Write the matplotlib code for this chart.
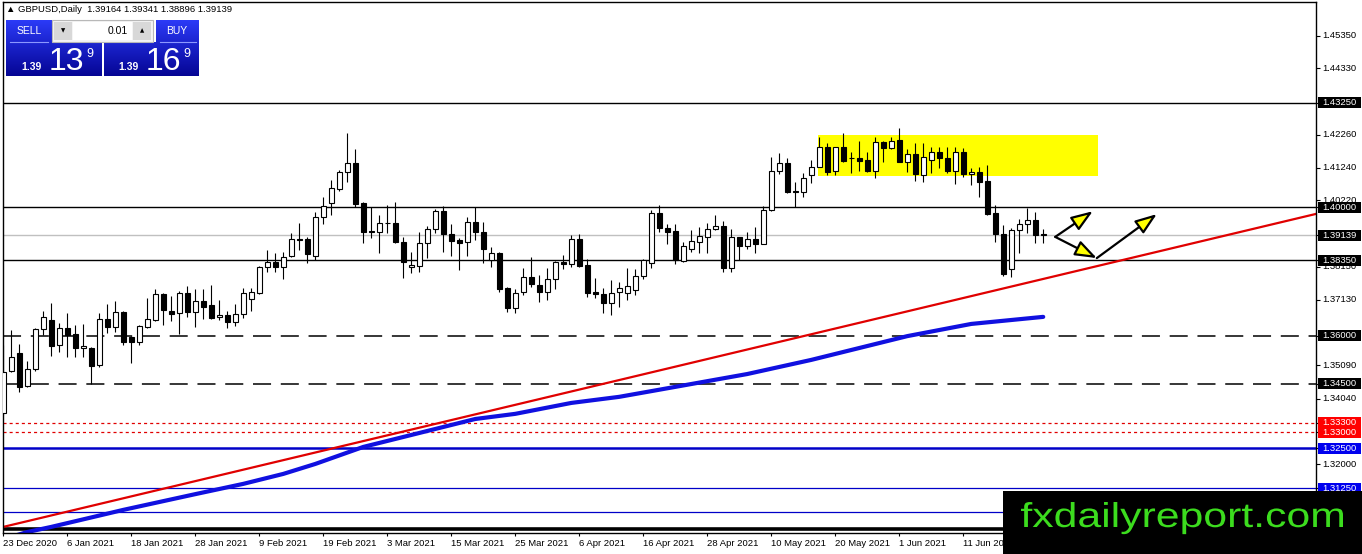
import numpy as np
import matplotlib
matplotlib.use("Agg")
import matplotlib.pyplot as plt
import matplotlib.transforms as mtransforms
from matplotlib.patches import Rectangle, PathPatch
from matplotlib.textpath import TextPath
from matplotlib.font_manager import FontProperties

plt.rcParams['font.family'] = ['Liberation Sans', 'DejaVu Sans']
plt.rcParams['lines.scale_dashes'] = False

# daily GBPUSD candles, one per trading day from 23 Dec 2020
opens = [1.3360, 1.3491, 1.3547, 1.3443, 1.3497, 1.3621, 1.3649, 1.3571, 1.3624, 1.3606,
         1.3562, 1.3562, 1.3509, 1.3652, 1.3627, 1.3674, 1.3596, 1.3581, 1.3627, 1.3649,
         1.3730, 1.3677, 1.3671, 1.3733, 1.3674, 1.3708, 1.3696, 1.3658, 1.3665, 1.3643,
         1.3668, 1.3715, 1.3733, 1.3814, 1.3830, 1.3814, 1.3848, 1.3901, 1.3901, 1.3848,
         1.3970, 1.4014, 1.4057, 1.4110, 1.4138, 1.4014, 1.3926, 1.3923, 1.3951, 1.3951,
         1.3892, 1.3814, 1.3817, 1.3889, 1.3932, 1.3988, 1.3917, 1.3898, 1.3892, 1.3954,
         1.3923, 1.3836, 1.3858, 1.3749, 1.3687, 1.3737, 1.3783, 1.3758, 1.3737, 1.3777,
         1.3830, 1.3824, 1.3901, 1.3821, 1.3737, 1.3730, 1.3702, 1.3737, 1.3733, 1.3743,
         1.3786, 1.3827, 1.3982, 1.3935, 1.3926, 1.3833, 1.3870, 1.3892, 1.3907, 1.3932,
         1.3942, 1.3811, 1.3907, 1.3879, 1.3901, 1.3886, 1.3992, 1.4113, 1.4138, 1.4051,
         1.4048, 1.4101, 1.4126, 1.4188, 1.4113, 1.4188, 1.4153, 1.4153, 1.4147, 1.4113,
         1.4203, 1.4185, 1.4210, 1.4141, 1.4166, 1.4101, 1.4147, 1.4172, 1.4153, 1.4113,
         1.4172, 1.4104, 1.4110, 1.4082, 1.3982, 1.3917, 1.3808, 1.3929, 1.3948, 1.3960,
         1.39164]
highs = [1.3571, 1.3618, 1.3575, 1.3522, 1.3624, 1.3677, 1.3702, 1.3640, 1.3671, 1.3634,
         1.3637, 1.3565, 1.3671, 1.3699, 1.3708, 1.3677, 1.3598, 1.3634, 1.3718, 1.3746,
         1.3733, 1.3724, 1.3740, 1.3755, 1.3746, 1.3746, 1.3758, 1.3711, 1.3677, 1.3699,
         1.3749, 1.3749, 1.3817, 1.3867, 1.3858, 1.3861, 1.3920, 1.3951, 1.3907, 1.3985,
         1.4032, 1.4085, 1.4116, 1.4231, 1.4181, 1.4016, 1.4001, 1.3976, 1.4007, 1.4017,
         1.3907, 1.3861, 1.3923, 1.3942, 1.3995, 1.4004, 1.3948, 1.3904, 1.3970, 1.4001,
         1.3954, 1.3876, 1.3861, 1.3752, 1.3746, 1.3811, 1.3845, 1.3789, 1.3811, 1.3833,
         1.3852, 1.3914, 1.3917, 1.3839, 1.3780, 1.3749, 1.3774, 1.3768, 1.3811, 1.3808,
         1.3839, 1.3992, 1.4007, 1.3948, 1.3948, 1.3892, 1.3929, 1.3939, 1.3951, 1.3976,
         1.3957, 1.3932, 1.3908, 1.3923, 1.3939, 1.4004, 1.4157, 1.4169, 1.4153, 1.4079,
         1.4107, 1.4147, 1.4219, 1.4200, 1.4189, 1.4231, 1.4172, 1.4206, 1.4172, 1.4219,
         1.4206, 1.4219, 1.4247, 1.4181, 1.4200, 1.4200, 1.4188, 1.4188, 1.4188, 1.4188,
         1.4185, 1.4122, 1.4126, 1.4132, 1.4007, 1.3945, 1.3935, 1.3964, 1.3998, 1.3985,
         1.39341]
lows = [1.3353, 1.3488, 1.3425, 1.3441, 1.3491, 1.3602, 1.3537, 1.3550, 1.3534, 1.3534,
        1.3534, 1.3450, 1.3503, 1.3609, 1.3612, 1.3571, 1.3515, 1.3571, 1.3624, 1.3646,
        1.3634, 1.3646, 1.3606, 1.3658, 1.3627, 1.3652, 1.3652, 1.3649, 1.3624, 1.3630,
        1.3655, 1.3677, 1.3731, 1.3799, 1.3799, 1.3777, 1.3845, 1.3867, 1.3827, 1.3836,
        1.3948, 1.3976, 1.4051, 1.4079, 1.4001, 1.3889, 1.3904, 1.3858, 1.3920, 1.3889,
        1.3780, 1.3796, 1.3799, 1.3842, 1.3920, 1.3861, 1.3848, 1.3805, 1.3848, 1.3898,
        1.3827, 1.3814, 1.3737, 1.3674, 1.3671, 1.3727, 1.3752, 1.3705, 1.3711, 1.3746,
        1.3808, 1.3814, 1.3814, 1.3721, 1.3718, 1.3671, 1.3665, 1.3690, 1.3711, 1.3727,
        1.3777, 1.3811, 1.3923, 1.3886, 1.3824, 1.3830, 1.3861, 1.3858, 1.3858, 1.3929,
        1.3799, 1.3799, 1.3836, 1.3870, 1.3858, 1.3885, 1.3988, 1.4104, 1.4045, 1.4001,
        1.4032, 1.4076, 1.4125, 1.4101, 1.4101, 1.4141, 1.4107, 1.4113, 1.4110, 1.4091,
        1.4141, 1.4181, 1.4140, 1.4110, 1.4082, 1.4079, 1.4107, 1.4122, 1.4107, 1.4073,
        1.4094, 1.4070, 1.4032, 1.3976, 1.3892, 1.3786, 1.3783, 1.3858, 1.3920, 1.3889,
        1.38896]
closes = [1.3488, 1.3534, 1.3440, 1.3497, 1.3621, 1.3658, 1.3568, 1.3624, 1.3602, 1.3562,
          1.3568, 1.3506, 1.3652, 1.3627, 1.3674, 1.3581, 1.3581, 1.3630, 1.3652, 1.3730,
          1.3680, 1.3668, 1.3733, 1.3674, 1.3708, 1.3690, 1.3655, 1.3665, 1.3643, 1.3668,
          1.3733, 1.3737, 1.3814, 1.3830, 1.3814, 1.3845, 1.3901, 1.3898, 1.3855, 1.3970,
          1.4004, 1.4060, 1.4110, 1.4138, 1.4011, 1.3923, 1.3923, 1.3951, 1.3952, 1.3892,
          1.3830, 1.3821, 1.3889, 1.3932, 1.3988, 1.3917, 1.3895, 1.3889, 1.3954, 1.3923,
          1.3870, 1.3858, 1.3746, 1.3687, 1.3733, 1.3783, 1.3761, 1.3737, 1.3777, 1.3830,
          1.3824, 1.3901, 1.3817, 1.3733, 1.3730, 1.3702, 1.3733, 1.3749, 1.3755, 1.3786,
          1.3836, 1.3982, 1.3935, 1.3923, 1.3836, 1.3879, 1.3895, 1.3911, 1.3932, 1.3942,
          1.3811, 1.3907, 1.3879, 1.3901, 1.3886, 1.3992, 1.4113, 1.4138, 1.4048, 1.4048,
          1.4091, 1.4126, 1.4188, 1.4110, 1.4188, 1.4144, 1.4154, 1.4144, 1.4113, 1.4203,
          1.4185, 1.4206, 1.4141, 1.4166, 1.4104, 1.4157, 1.4172, 1.4153, 1.4113, 1.4172,
          1.4104, 1.4110, 1.4079, 1.3979, 1.3917, 1.3793, 1.3929, 1.3948, 1.3960, 1.3914,
          1.39139]

# date labels every 8 bars
date_idx = [0, 8, 16, 24, 32, 40, 48, 56, 64, 72, 80, 88, 96, 104, 112, 120]
date_labels = ['23 Dec 2020', '6 Jan 2021', '18 Jan 2021', '28 Jan 2021', '9 Feb 2021',
               '19 Feb 2021', '3 Mar 2021', '15 Mar 2021', '25 Mar 2021', '6 Apr 2021',
               '16 Apr 2021', '28 Apr 2021', '10 May 2021', '20 May 2021', '1 Jun 2021',
               '11 Jun 2021']

# moving average (blue), read at some bars
ma_idx = [0, 3, 6, 15, 24, 30, 35, 39, 45, 50, 59, 64, 71, 77, 84, 93, 101, 113, 121, 130]
ma_val = [1.2967, 1.2989, 1.3005, 1.3058, 1.3107, 1.3139, 1.3170, 1.3201, 1.3254, 1.3285,
          1.3341, 1.3357, 1.3391, 1.3410, 1.3441, 1.3481, 1.3525, 1.3599, 1.3637, 1.3659]

# red trend line
trend_idx = [0, 164]
trend_val = [1.3005, 1.3979]

# yellow consolidation zone
zone_idx = [101.8, 136.8]
zone_val = [1.4097, 1.4225]

# forecast arrows (start bar, start price, end bar, end price)
arrows = [(131.5, 1.3908, 136.2, 1.3988),
          (131.5, 1.3908, 136.7, 1.3842),
          (136.7, 1.3842, 144.2, 1.3979)]

# horizontal levels
solid_levels = [1.4325, 1.4000, 1.3835]
dashed_levels = [1.3600, 1.3450]
dotted_levels = [1.3330, 1.3300]
blue_levels = [1.3250, 1.3125, 1.3050]
bid_price = 1.39139
base_level = 1.3000

# right scale labels
plain_ticks = [1.45350, 1.44330, 1.42260, 1.41240, 1.40220, 1.38150, 1.37130,
               1.35090, 1.34040, 1.32000]
boxed_ticks = [1.43250, 1.40000, 1.39139, 1.38350, 1.36000, 1.34500,
               1.33300, 1.33000, 1.32500, 1.31250]
boxed_colors = ['black', 'black', 'black', 'black', 'black', 'black',
                '#ff0000', '#ff0000', '#0000ee', '#0000ee']

W, H = 1362, 554
fig = plt.figure(figsize=(W / 100, H / 100), dpi=100)
left, right, top, bottom = 2.5, 1316, 1.5, 533
ax = fig.add_axes([left / W, (H - bottom) / H, (right - left) / W, (bottom - top) / H])
ax.set_xlim(-0.1, 164.1)
ax.set_ylim(1.2986, 1.4641)

# zone
ax.add_patch(Rectangle((zone_idx[0], zone_val[0]), zone_idx[1] - zone_idx[0],
                       zone_val[1] - zone_val[0], fc='#ffff00', ec='none', zorder=1))

for v in solid_levels:
    ax.axhline(v, color='black', lw=1, zorder=1.5)
ax.axhline(bid_price, color='#c0c0c0', lw=1, zorder=1.4)
for v in dashed_levels:
    ax.axhline(v, color='black', lw=1.1, dashes=(13, 7), zorder=1.5)
for v in dotted_levels:
    ax.axhline(v, color='#e00000', lw=0.9, dashes=(2.2, 2.2), zorder=1.5)
ax.axhline(blue_levels[0], color='#0000c8', lw=1.8, zorder=1.5)
for v in blue_levels[1:]:
    ax.axhline(v, color='#0000c8', lw=0.9, zorder=1.5)
ax.axhline(base_level, color='black', lw=2.6, zorder=1.5)

# trend line and moving average
slope = (trend_val[1] - trend_val[0]) / (trend_idx[1] - trend_idx[0])
ax.axline((trend_idx[0], trend_val[0]), slope=slope, color='#e00000', lw=1.6, zorder=2)
ax.plot(ma_idx, ma_val, color='#1010e0', lw=3.0, solid_capstyle='round', zorder=2.2)

# candles
x = np.arange(len(opens))
o = np.array(opens)
c = np.array(closes)
ax.vlines(x, lows, highs, color='black', lw=0.8, zorder=3)
up = c >= o
body_lo = np.minimum(o, c)
body_h = np.maximum(np.abs(c - o), 0.00004)
ax.bar(x[up], body_h[up], bottom=body_lo[up], width=0.6, color='white',
       edgecolor='black', linewidth=0.8, zorder=4)
ax.bar(x[~up], body_h[~up], bottom=body_lo[~up], width=0.6, color='black',
       edgecolor='black', linewidth=0.8, zorder=4)

# arrows
for x0, y0, x1, y1 in arrows:
    ax.annotate('', xy=(x1, y1), xytext=(x0, y0), zorder=6,
                arrowprops=dict(arrowstyle='-|>,head_length=1.1,head_width=0.4',
                                mutation_scale=12, fc='#ffff00', ec='black', lw=1.6,
                                shrinkA=0, shrinkB=0))

# axes styling
for s in ax.spines.values():
    s.set_color('black')
    s.set_linewidth(1)
ax.set_xticks(date_idx)
ax.set_xticklabels(date_labels, fontsize=6.8, ha='left')
ax.tick_params(axis='x', length=2.5, width=0.8, pad=2)
ax.yaxis.tick_right()
ax.set_yticks(plain_ticks + boxed_ticks)
ax.tick_params(axis='y', length=3, width=0.8, labelright=False, labelleft=False)

# overlay in pixel coordinates
ov = fig.add_axes([0, 0, 1, 1], zorder=10)
ov.axis('off')


def ypix(v):
    return H - ax.transData.transform((0, v))[1]


for v in plain_ticks:
    ov.text(1322, ypix(v), f'{v:.5f}', fontsize=6.8, va='center', ha='left', color='black')
for v, col in zip(boxed_ticks, boxed_colors):
    yp = ypix(v)
    ov.add_patch(Rectangle((1317.5, yp - 5.5), 43.5, 11, fc=col, ec='none', zorder=3))
    ov.text(1322, yp, f'{v:.5f}', fontsize=6.8, va='center', ha='left', color='white',
            zorder=4)

# header
ov.text(6, 10, '\u25b2 GBPUSD,Daily  1.39164 1.39341 1.38896 1.39139', fontsize=6.8,
        va='center', ha='left', color='black')

# trade panel
c_top = np.array([0.17, 0.23, 0.97])
c_bot = np.array([0.02, 0.02, 0.58])


def grad_box(x0, x1, y0, y1):
    t = (np.linspace(y0, y1, 40) - 20) / 56
    img = c_top[None, :] * (1 - t[:, None]) + c_bot[None, :] * t[:, None]
    img = np.repeat(img[:, None, :], 2, axis=1)
    ov.imshow(img, extent=(x0, x1, y1, y0), origin='upper', aspect='auto',
              interpolation='bilinear', zorder=2)


grad_box(6, 52, 20, 42)
grad_box(6, 102, 42, 76)
grad_box(156, 199, 20, 42)
grad_box(104, 199, 42, 76)
ov.plot([10, 48], [41.5, 41.5], color='#8c98ff', lw=0.8, zorder=3)
ov.plot([160, 196], [41.5, 41.5], color='#8c98ff', lw=0.8, zorder=3)
ov.add_patch(Rectangle((52, 20), 101, 22, fc='#f4f4f4', ec='#b8b8b8', lw=0.8, zorder=2))
ov.add_patch(Rectangle((54, 22), 18, 18, fc='#d8d8d8', ec='none', zorder=3))
ov.add_patch(Rectangle((133, 22), 18, 18, fc='#d8d8d8', ec='none', zorder=3))
ov.add_patch(Rectangle((73, 22), 59, 18, fc='white', ec='none', zorder=3))
ov.text(63, 31, '\u25bc', fontsize=4, ha='center', va='center', color='black',
        zorder=4, family=['DejaVu Sans'])
ov.text(142, 31, '\u25b2', fontsize=4, ha='center', va='center', color='black',
        zorder=4, family=['DejaVu Sans'])
ov.text(128, 31, '0.01', fontsize=7.5, ha='right', va='center', color='black', zorder=4)
ov.text(29, 31, 'SELL', fontsize=7.5, ha='center', va='center', color='white', zorder=4)
ov.text(177, 31, 'BUY', fontsize=7.5, ha='center', va='center', color='white', zorder=4)
for bx, big in [(0, '13'), (97, '16')]:
    ov.text(21 + bx, 70, '1.39', fontsize=7.5, fontweight='bold', ha='left',
            va='baseline', color='white', zorder=4)
    ov.text(49 + bx, 70, big, fontsize=23, ha='left', va='baseline', color='white',
            zorder=4)
    ov.text(86 + bx, 57, '9', fontsize=9, ha='left', va='baseline', color='white',
            zorder=4)

# logo
ov.add_patch(Rectangle((1003, 491), W - 1003, H - 491, fc='black', ec='none', zorder=5))
tp = TextPath((0, 0), 'fxdailyreport.com', size=1, prop=FontProperties(family='Liberation Sans'))
ext = tp.get_extents()
sx = (1343 - 1021) / (ext.x1 - ext.x0)
sy = 25 / ext.y1
tr = mtransforms.Affine2D().scale(sx, -sy).translate(1021 - ext.x0 * sx, 527)
ov.add_patch(PathPatch(tr.transform_path(tp), fc='#3cdc1e', ec='none', zorder=6))

ov.set_xlim(0, W)
ov.set_ylim(H, 0)

fig.savefig('out.png', dpi=100, facecolor='white')
